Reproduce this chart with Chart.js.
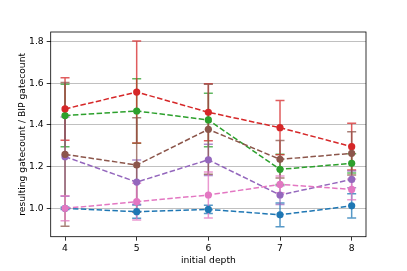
<!DOCTYPE html>
<html>
<head>
<meta charset="utf-8">
<script src="https://cdn.jsdelivr.net/npm/chart.js@4"></script>
<style>
    html, body { margin: 0; padding: 0; background: #fff; }
    #wrap { width: 407px; height: 271px; }
</style>
</head>
<body>
<div id="wrap"><canvas id="depthChart" width="407" height="271"></canvas></div>
<script>
// x positions and y ticks
const depths = [4, 5, 6, 7, 8];
const yTicks = [1.0, 1.2, 1.4, 1.6, 1.8];

// series means and error half-widths
const blueMean = [1.000, 0.984, 0.995, 0.969, 1.012];
const blueErr = [0.005, 0.032, 0.020, 0.057, 0.058];

const greenMean = [1.445, 1.467, 1.424, 1.187, 1.216];
const greenErr = [0.150, 0.155, 0.128, 0.072, 0.046];

const redMean = [1.477, 1.558, 1.461, 1.387, 1.296];
const redErr = [0.150, 0.245, 0.137, 0.130, 0.112];

const purpleMean = [1.248, 1.126, 1.233, 1.064, 1.139];
const purpleErr = [0.190, 0.106, 0.075, 0.045, 0.040];

const brownMean = [1.259, 1.208, 1.379, 1.235, 1.264];
const brownErr = [0.345, 0.227, 0.216, 0.090, 0.104];

const pinkMean = [1.000, 1.032, 1.064, 1.115, 1.091];
const pinkErr = [0.060, 0.088, 0.110, 0.040, 0.050];

const FONT = { family: "'DejaVu Sans', sans-serif", size: 9.2 };

function makeSeries(mean, err, color) {
    return {
        data: depths.map((d, i) => ({ x: d, y: mean[i] })),
        errors: err,
        borderColor: color,
        backgroundColor: color,
        pointBackgroundColor: color,
        pointBorderWidth: 0,
        pointRadius: 3.6,
        borderWidth: 1.5,
        borderDash: [5.5, 2.4],
        showLine: true,
        tension: 0
    };
}

// all error bars go under all lines and markers, bottom series first
const errorBars = {
    id: 'errorBars',
    beforeDatasetsDraw(chart) {
        const xs = chart.scales.x;
        const ys = chart.scales.y;
        const ctx = chart.ctx;
        const list = chart.data.datasets.slice().reverse();
        ctx.save();
        ctx.globalAlpha = 0.75;
        ctx.lineWidth = 1.5;
        ctx.setLineDash([]);
        list.forEach(ds => {
            ctx.strokeStyle = ds.borderColor;
            ds.data.forEach((p, i) => {
                const e = ds.errors[i];
                const px = xs.getPixelForValue(p.x);
                const top = ys.getPixelForValue(p.y + e);
                const bot = ys.getPixelForValue(p.y - e);
                ctx.beginPath();
                ctx.moveTo(px, top);
                ctx.lineTo(px, bot);
                ctx.moveTo(px - 4.5, top);
                ctx.lineTo(px + 4.5, top);
                ctx.moveTo(px - 4.5, bot);
                ctx.lineTo(px + 4.5, bot);
                ctx.stroke();
            });
        });
        ctx.restore();
    }
};

// black box round the plot area
const frame = {
    id: 'frame',
    afterDraw(chart) {
        const a = chart.chartArea;
        const ctx = chart.ctx;
        ctx.save();
        ctx.strokeStyle = '#000';
        ctx.lineWidth = 0.8;
        ctx.strokeRect(a.left, a.top, a.right - a.left, a.bottom - a.top);
        ctx.restore();
    }
};

// Chart.js paints index 0 last, so the list runs top series first
new Chart(document.getElementById('depthChart'), {
    type: 'scatter',
    data: {
        datasets: [
            makeSeries(pinkMean, pinkErr, '#e377c2'),
            makeSeries(brownMean, brownErr, '#8c564b'),
            makeSeries(purpleMean, purpleErr, '#9467bd'),
            makeSeries(redMean, redErr, '#d62728'),
            makeSeries(greenMean, greenErr, '#2ca02c'),
            makeSeries(blueMean, blueErr, '#1f77b4')
        ]
    },
    plugins: [errorBars, frame],
    options: {
        responsive: false,
        animation: false,
        layout: { padding: { left: 2, right: 41, top: 32, bottom: 2 } },
        plugins: {
            legend: { display: false },
            tooltip: { enabled: false }
        },
        scales: {
            x: {
                type: 'linear',
                min: 3.8,
                max: 8.2,
                afterBuildTicks: (scale) => { scale.ticks = depths.map(v => ({ value: v })); },
                afterFit: (scale) => { scale.height = 271 - 2 - 236.7; },
                ticks: {
                    font: FONT,
                    color: '#000',
                    padding: 2,
                    callback: (v) => String(v)
                },
                grid: {
                    drawOnChartArea: false,
                    drawTicks: true,
                    tickLength: 4,
                    tickColor: '#000',
                    tickWidth: 0.8
                },
                border: { display: false },
                title: {
                    display: true,
                    text: 'initial depth',
                    font: FONT,
                    color: '#000',
                    padding: { top: 3, bottom: 3 }
                }
            },
            y: {
                type: 'linear',
                min: 0.864,
                max: 1.846,
                afterBuildTicks: (scale) => { scale.ticks = yTicks.map(v => ({ value: v })); },
                afterFit: (scale) => { scale.width = 50.7 - 2; },
                ticks: {
                    font: FONT,
                    color: '#000',
                    padding: 3,
                    callback: (v) => Number(v).toFixed(1)
                },
                grid: {
                    color: '#b0b0b0',
                    lineWidth: 0.8,
                    drawTicks: true,
                    tickLength: 4,
                    tickColor: '#000',
                    tickWidth: 0.8
                },
                border: { display: false },
                title: {
                    display: true,
                    text: 'resulting gatecount / BIP gatecount',
                    font: FONT,
                    color: '#000',
                    padding: { top: 15, bottom: 0 }
                }
            }
        }
    }
});
</script>
</body>
</html>
